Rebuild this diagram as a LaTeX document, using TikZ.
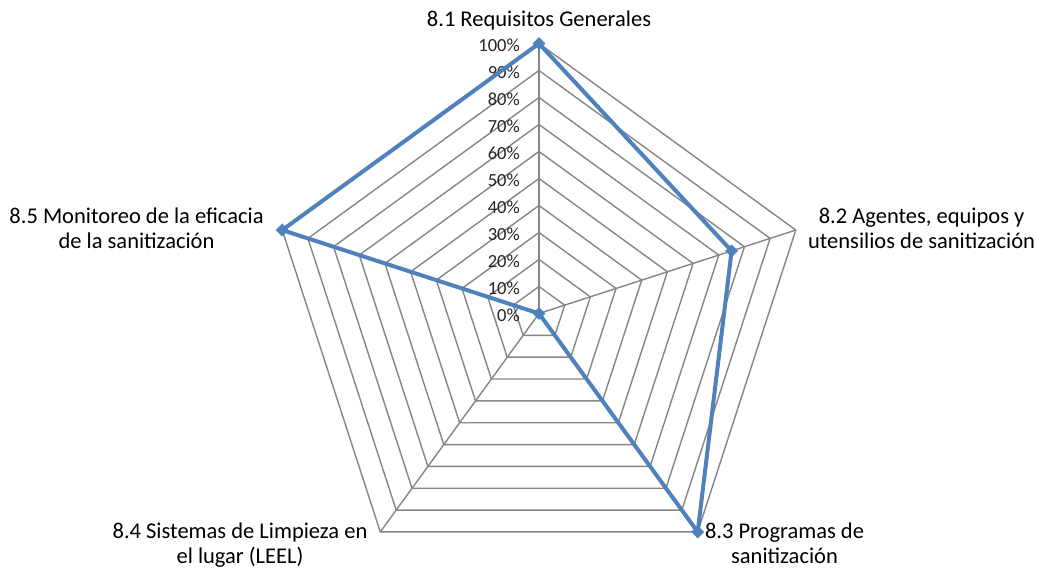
\documentclass[tikz,border=0pt]{standalone}
\usepackage{fontspec}
\setmainfont{Carlito}
\usetikzlibrary{shapes.geometric}
\definecolor{seriesblue}{RGB}{79,129,189}
\definecolor{gridgray}{RGB}{134,134,134}
\tikzset{
  gridline/.style={draw=gridgray, line width=1.4pt},
  serieslin/.style={draw=seriesblue, line width=4pt, line join=round},
  datamark/.style={diamond, fill=seriesblue, inner sep=0pt, minimum size=13pt},
  catlabel/.style={inner sep=0pt, align=center, font=\fontsize{22.5}{25}\selectfont},
  ticklabel/.style={inner sep=0pt, anchor=east, font=\fontsize{18.5}{22}\selectfont, text=black!85}
}
\begin{document}
\begin{tikzpicture}[x=1pt, y=1pt]
\useasboundingbox (0,-569) rectangle (1041,0);
\fill[white] (0,-569) rectangle (1041,0);

\begin{scope}[shift={(539,-313.5)}]
  % concentric pentagons, one per 10 %
  \foreach \k in {1,...,10} {
    \pgfmathsetmacro{\r}{27*\k}
    \draw[gridline] (90:\r) -- (18:\r) -- (-54:\r) -- (-126:\r) -- (162:\r) -- cycle;
  }
  % spokes
  \coordinate (o) at (0,0);
  \foreach \a/\n in {90/v1, 18/v2, -54/v3, -126/v4, 162/v5} {
    \coordinate (\n) at (\a:270);
    \draw[gridline] (o) -- (\n);
  }
  % scale labels along the first spoke
  \foreach \k in {0,...,10} {
    \pgfmathtruncatemacro{\pc}{10*\k}
    \node[ticklabel] (t\k) at (-19,{27*\k-1.5}) {\pc\%};
  }
  % data series
  \coordinate (p1) at (90:270);
  \coordinate (p2) at (18:202.5);
  \coordinate (p3) at (-54:270);
  \coordinate (p4) at (0,0);
  \coordinate (p5) at (162:270);
  \draw[serieslin] (p1) -- (p2) -- (p3) -- (p4) -- (p5) -- cycle;
  \foreach \p in {p1,p2,p3,p4,p5} {
    \node[datamark] (m\p) at (\p) {};
  }
\end{scope}

% category labels (base anchor sits on the last line)
\node[catlabel, anchor=base] (c1) at (539,-26.7) {8.1 Requisitos Generales};
\node[catlabel, anchor=base] (c2) at (921.6,-248.3) {8.2 Agentes, equipos y\\utensilios de sanitización};
\node[catlabel, anchor=base] (c3) at (784.5,-563.3) {8.3 Programas de\\sanitización};
\node[catlabel, anchor=base] (c4) at (240,-563.3) {8.4 Sistemas de Limpieza en\\el lugar (LEEL)};
\node[catlabel, anchor=base] (c5) at (136.5,-248.3) {8.5 Monitoreo de la eficacia\\de la sanitización};
\end{tikzpicture}
\end{document}
